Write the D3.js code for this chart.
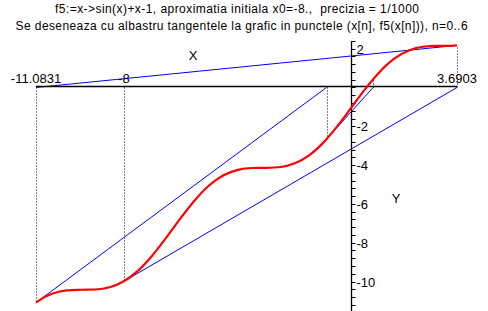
<!DOCTYPE html>
<html><head><meta charset="utf-8">
<script src="https://cdn.jsdelivr.net/npm/d3@7"></script>
<style>
html,body{margin:0;padding:0;background:#fff;}
svg{display:block;}
text{font-family:"Liberation Sans",Arial,sans-serif;fill:#000;}
text.title{white-space:pre;}
</style></head>
<body>
<script>
// Title lines
const titleLines = [
  "f5:=x->sin(x)+x-1, aproximatia initiala x0=-8.,  precizia = 1/1000",
  "Se deseneaza cu albastru tangentele la grafic in punctele (x[n], f5(x[n])), n=0..6"
];
// Curve samples of f5(x) (x, y)
const curveX = [-11.0831,-11,-10.5,-10,-9.5,-9,-8.5,-8,-7.5,-7,-6.5,-6,-5.5,-5,-4.5,-4,-3.5,-3,-2.5,-2,-1.5,-1,-0.5,0,0.5,1,1.5,2,2.5,3,3.5,3.6903];
const curveY = [-11.0870,-11.0000,-10.6203,-10.4560,-10.4249,-10.4121,-10.2985,-9.9894,-9.4380,-8.6570,-7.7151,-6.7206,-5.7945,-5.0411,-4.5225,-4.2432,-4.1492,-4.1411,-4.0985,-3.9093,-3.4975,-2.8415,-1.9794,-1.0000,-0.0206,0.8415,1.4975,1.9093,2.0985,2.1411,2.1492,2.1687];
// Newton iterates x[n] and f5(x[n])
const newtonX = [-8, 3.6903, -11.0831, -0.8888, 0.7459, 0.5011, 0.5110, 0.5110];
const newtonF = [-9.9894, 2.1687, -11.0870, -2.6651, 0.4245, -0.0184, -0.0000];
// Axis labels
const xTickValues = [-11.0831, -8, 3.6903];
const xTickLabels = ["-11.0831", "-8", "3.6903"];
const yMajorTicks = [2, -2, -4, -6, -8, -10];
const yAxisRange = [-11.6, 2.4];
const yTickStep = 0.4;

const W = 488, H = 311;
const svg = d3.select("body").append("svg").attr("width", W).attr("height", H);

const x = d3.scaleLinear().domain([-11.0831, 3.6903]).range([36, 457]);
const y = d3.scaleLinear().domain([-11.0870, 2.1687]).range([302.6, 45.4]);

// Titles
const titleLayout = [{cx: 237, w: 364, by: 13}, {cx: 241.6, w: 452, by: 29.5}];
svg.selectAll("text.title").data(titleLines).join("text")
  .attr("class", "title")
  .attr("xml:space", "preserve")
  .attr("x", (d, i) => titleLayout[i].cx).attr("y", (d, i) => titleLayout[i].by)
  .attr("text-anchor", "middle").attr("font-size", 12)
  .attr("textLength", (d, i) => titleLayout[i].w).attr("lengthAdjust", "spacing")
  .text(d => d);

// Tangent lines
const tangents = d3.range(7).map(n => ({x1: newtonX[n], y1: newtonF[n], x2: newtonX[n + 1], y2: 0}));
svg.append("g").selectAll("line").data(tangents).join("line")
  .attr("x1", d => x(d.x1)).attr("y1", d => y(d.y1))
  .attr("x2", d => x(d.x2)).attr("y2", d => y(d.y2))
  .attr("stroke", "#0000ff").attr("stroke-width", 1);

// Dotted verticals
svg.append("g").selectAll("line").data(d3.range(7)).join("line")
  .attr("x1", n => Math.round(x(newtonX[n])) + 0.5).attr("x2", n => Math.round(x(newtonX[n])) + 0.5)
  .attr("y1", y(0)).attr("y2", n => y(newtonF[n]))
  .attr("stroke", "#000").attr("stroke-width", 1).attr("stroke-dasharray", "1,2");

// X axis
const y0 = Math.round(y(0)) - 0.5;
svg.append("line").attr("x1", x(-11.0831)).attr("x2", x(3.6903)).attr("y1", y0).attr("y2", y0)
  .attr("stroke", "#000").attr("stroke-width", 1.3);
svg.selectAll("text.xl").data(xTickValues).join("text").attr("class", "xl")
  .attr("x", d => x(d)).attr("y", 83).attr("text-anchor", "middle").attr("font-size", 13)
  .text((d, i) => xTickLabels[i]);

// Y axis
const x0 = Math.round(x(0)) - 0.5;
svg.append("line").attr("x1", x0).attr("x2", x0).attr("y1", y(yAxisRange[1])).attr("y2", y(yAxisRange[0]))
  .attr("stroke", "#000").attr("stroke-width", 1.3);
const nT = Math.round((yAxisRange[1] - yAxisRange[0]) / yTickStep);
const yTicks = d3.range(nT + 1).map(i => yAxisRange[1] - i * yTickStep);
svg.append("g").selectAll("line").data(yTicks).join("line")
  .attr("x1", x0).attr("x2", x0 + 4)
  .attr("y1", d => Math.round(y(d)) + 0.5).attr("y2", d => Math.round(y(d)) + 0.5)
  .attr("stroke", "#000").attr("stroke-width", 1);
svg.selectAll("text.yl").data(yMajorTicks).join("text").attr("class", "yl")
  .attr("x", x0 + 5).attr("y", d => y(d) + 5).attr("font-size", 13).text(d => d);

// Axis names
svg.append("text").attr("x", 193).attr("y", 60).attr("text-anchor", "middle").attr("font-size", 13).text("X");
svg.append("text").attr("x", 396).attr("y", 203).attr("text-anchor", "middle").attr("font-size", 13).text("Y");

// Curve
const pts = curveX.map((v, i) => [v, curveY[i]]);
svg.append("path").datum(pts)
  .attr("d", d3.line().x(d => x(d[0])).y(d => y(d[1])).curve(d3.curveMonotoneX))
  .attr("fill", "none").attr("stroke", "#ff0000").attr("stroke-width", 2.2);
</script>
</body></html>
